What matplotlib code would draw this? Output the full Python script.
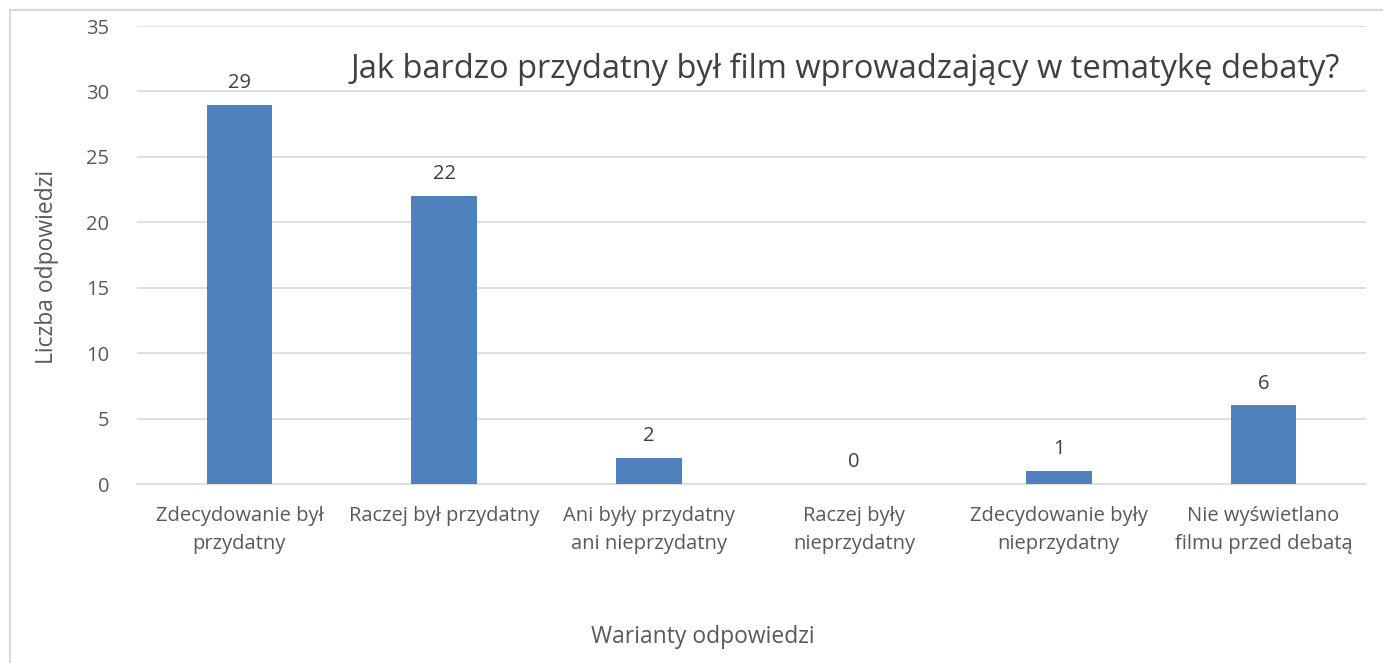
import matplotlib.pyplot as plt
from matplotlib.patches import Rectangle

categories = ['Zdecydowanie był\nprzydatny', 'Raczej był przydatny', 'Ani były przydatny\nani nieprzydatny',
              'Raczej były\nnieprzydatny', 'Zdecydowanie były\nnieprzydatny', 'Nie wyświetlano\nfilmu przed debatą']
values = [29, 22, 2, 0, 1, 6]
yticks = [0, 5, 10, 15, 20, 25, 30, 35]

plt.rcParams['font.family'] = ['Open Sans', 'DejaVu Sans']
text_col = '#595959'

W, H = 1383, 663
fig = plt.figure(figsize=(W / 100, H / 100), dpi=100)
ax = fig.add_axes([137 / W, 1 - 484 / H, (1366 - 137) / W, (484 - 26) / H])

# chart border (cut off on right and bottom)
fig.patches.append(Rectangle((10 / W, -0.1), 1.2, 1 - 10 / H + 0.1, transform=fig.transFigure,
                             fill=False, edgecolor='#d9d9d9', linewidth=1.5))

x = range(len(categories))
ax.bar(x, values, width=0.32, color='#4f81bd', linewidth=0, zorder=3)
for xi, v in zip(x, values):
    ax.text(xi, v + 0.9, str(v), ha='center', va='bottom', fontsize=14.5, color='#404040')

ax.set_xlim(-0.5, len(categories) - 0.5)
ax.set_ylim(0, 35)
ax.set_yticks(yticks)
ax.yaxis.grid(True, color='#d9d9d9', linewidth=1.2, zorder=0)
ax.set_xticks(list(x))
ax.set_xticklabels(categories, fontsize=14.5, color=text_col, linespacing=1.5)
ax.tick_params(axis='y', labelsize=14.5, labelcolor=text_col, length=0, pad=20)
ax.tick_params(axis='x', length=0, pad=16)
for s in ['top', 'right', 'left']:
    ax.spines[s].set_visible(False)
ax.spines['bottom'].set_color('#d9d9d9')
ax.spines['bottom'].set_linewidth(1.2)

fig.text(47 / W, 1 - 267 / H, 'Liczba odpowiedzi', fontsize=16.5, color=text_col,
         ha='center', va='center', rotation=90)
fig.text(703 / W, 1 - 637 / H, 'Warianty odpowiedzi', fontsize=16.5, color=text_col, ha='center', va='center')
fig.text(845 / W, 1 - 69 / H, 'Jak bardzo przydatny był film wprowadzający w tematykę debaty?',
         fontsize=23.5, color='#404040', ha='center', va='center')

fig.savefig('out.png', dpi=100)
